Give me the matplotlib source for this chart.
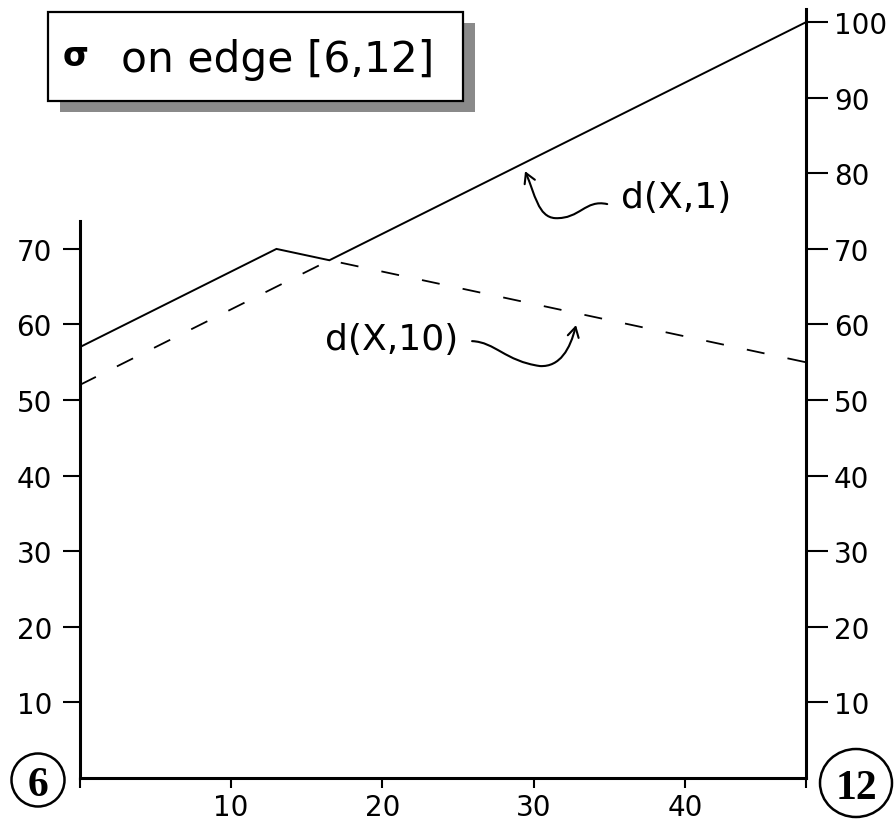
import matplotlib
matplotlib.use("Agg")
import matplotlib.pyplot as plt
from matplotlib.patches import Rectangle, Ellipse, FancyArrowPatch
from matplotlib.path import Path

# ---- data ----
d1_x = [0, 13, 16.5, 48]
d1_y = [57, 70, 68.5, 100]
d10_x = [0, 16.5, 48]
d10_y = [52, 68.5, 55]
x_ticks = [0, 10, 20, 30, 40, 48]
x_tick_labels = ["", "10", "20", "30", "40", ""]
left_ticks = [10, 20, 30, 40, 50, 60, 70]
right_ticks = [10, 20, 30, 40, 50, 60, 70, 80, 90, 100]
title_text = "on edge [6,12]"
label_d1 = "d(X,1)"
label_d10 = "d(X,10)"
node_left = "6"
node_right = "12"

W, H = 894, 829
fig = plt.figure(figsize=(W / 100, H / 100), dpi=100)
fig.patch.set_facecolor("white")

def fx(px):
    return px / W

def fy(py):
    return 1 - py / H

ax = fig.add_axes([0.0892, 0.0603, 0.8124, 0.930])
ax.set_xlim(0, 48)
ax.set_ylim(0, 102)
ax.set_facecolor("none")

ax.plot(d1_x, d1_y, color="black", lw=1.4, solid_joinstyle="miter")
ax.plot(d10_x, d10_y, color="black", lw=1.3, linestyle=(0, (10, 13)))

for s in ["top", "right"]:
    ax.spines[s].set_visible(False)
ax.spines["left"].set_linewidth(2.2)
ax.spines["bottom"].set_linewidth(2.2)
ax.spines["left"].set_bounds(0, 73.7)

ax.set_xticks(x_ticks)
ax.set_xticklabels(x_tick_labels)
ax.set_yticks(left_ticks)
ax.set_yticklabels([str(v) for v in left_ticks])
ax.tick_params(axis="x", direction="out", length=7.5, width=1.5, pad=3,
               labelsize=20)
ax.tick_params(axis="y", direction="out", length=12, width=1.5, pad=8,
               labelsize=20)

ax2 = ax.twinx()
ax2.set_ylim(0, 102)
for s in ["top", "left", "bottom"]:
    ax2.spines[s].set_visible(False)
ax2.spines["right"].set_linewidth(2.2)
ax2.spines["right"].set_bounds(0, 101.7)
ax2.set_yticks(right_ticks)
ax2.set_yticklabels([str(v) for v in right_ticks])
ax2.tick_params(axis="y", direction="out", length=16, width=1.5, pad=4,
                labelsize=20)

# annotations
ax.text(39.4, 76.9, label_d1, fontsize=26, ha="center", va="center")
ax.text(20.6, 58.1, label_d10, fontsize=26, ha="center", va="center")

def arrow_path(pts):
    codes = [Path.MOVETO] + [Path.CURVE4] * (len(pts) - 1)
    return Path(pts, codes)

p1 = arrow_path([(34.86, 75.93), (33.40, 76.59), (33.07, 73.94), (31.42, 74.07),
                 (30.29, 74.21), (30.09, 77.25), (29.43, 80.29)])
p2 = arrow_path([(25.93, 57.80), (27.45, 57.67), (28.11, 55.16), (30.42, 54.50),
                 (31.74, 54.37), (32.41, 56.75), (32.80, 59.92)])
for p in (p1, p2):
    a = FancyArrowPatch(path=ax.transData.transform_path(p), transform=None,
                        arrowstyle="->,head_length=7,head_width=4",
                        color="black", lw=1.5, mutation_scale=1)
    fig.add_artist(a)

# title box with shadow
fig.add_artist(Rectangle((fx(60), fy(113)), fx(475) - fx(60), fy(24) - fy(113),
                         transform=fig.transFigure, facecolor="#8a8a8a",
                         edgecolor="none"))
fig.add_artist(Rectangle((fx(48), fy(102)), fx(463) - fx(48), fy(13) - fy(102),
                         transform=fig.transFigure, facecolor="white",
                         edgecolor="black", lw=1.6))
fig.text(fx(76), fy(66), "σ", fontsize=24, fontweight="bold", ha="center",
         va="baseline")
fig.text(fx(121), fy(72), title_text, fontsize=30.5, ha="left", va="baseline")

# node circles
fig.add_artist(Ellipse((fx(38), fy(781)), fx(53), 53 / H,
                       transform=fig.transFigure, fill=False, lw=1.8,
                       edgecolor="black"))
fig.text(fx(38), fy(782), node_left, fontsize=30, family="Liberation Serif",
         fontweight="bold", ha="center", va="center_baseline")
fig.add_artist(Ellipse((fx(856), fy(784)), fx(72), 68 / H,
                       transform=fig.transFigure, fill=False, lw=1.8,
                       edgecolor="black"))
fig.text(fx(856), fy(785), node_right, fontsize=30, family="Liberation Serif",
         fontweight="bold", ha="center", va="center_baseline")

fig.savefig("out.png", dpi=100)
